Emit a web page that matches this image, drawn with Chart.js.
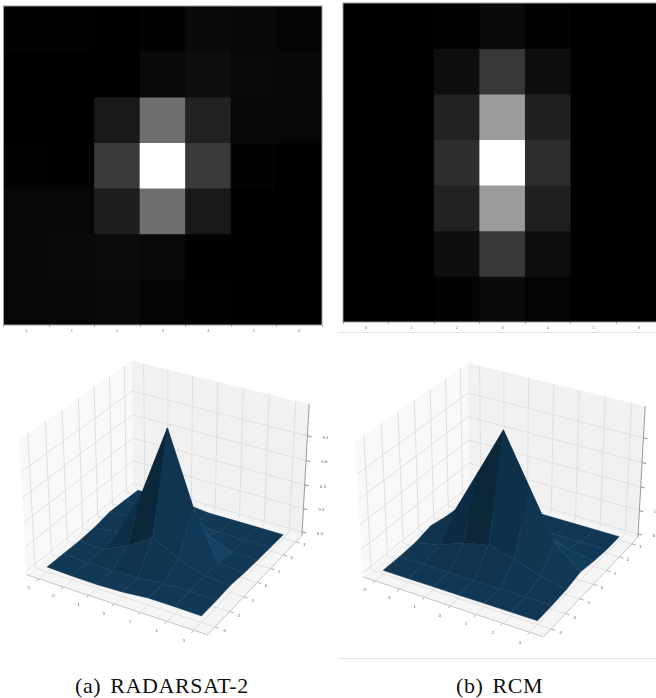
<!DOCTYPE html>
<html>
<head>
<meta charset="utf-8">
<script src="https://cdn.jsdelivr.net/npm/chart.js@4"></script>
<style>
  html, body { margin: 0; background: #fff; overflow: hidden; width: 656px; height: 698px; }
  canvas { position: absolute; filter: blur(0.7px); }
  #heatA { left: 0; top: 0; filter: blur(0.6px); }
  #heatB { left: 328px; top: 0; filter: blur(0.6px); }
  #surfA { left: 0; top: 340px; }
  #surfB { left: 336px; top: 342px; }
  .caption { position: absolute; top: 673px; font: 22px "Liberation Serif", serif; letter-spacing: 0.6px; word-spacing: 3px; color: #111; white-space: pre; }
  .rule { position: absolute; left: 338px; width: 318px; height: 1px; background: #e4e4e4; }
</style>
</head>
<body>
<canvas id="heatA" width="328" height="334"></canvas>
<canvas id="heatB" width="340" height="334"></canvas>
<canvas id="surfA" width="328" height="320"></canvas>
<canvas id="surfB" width="328" height="320"></canvas>
<div class="rule" style="top:332px"></div>
<div class="rule" style="top:658px"></div>
<div class="caption" style="left:75px">(a) RADARSAT-2</div>
<div class="caption" style="left:456px">(b) RCM</div>
<script>
// grey level of each cell (row by row)
const radarsatLevels = [
  [3, 2, 1, 3, 9, 7, 5],
  [1, 0, 0, 9, 14, 8, 7],
  [0, 0, 24, 110, 34, 7, 6],
  [2, 1, 58, 255, 58, 3, 0],
  [7, 7, 30, 110, 24, 1, 0],
  [7, 9, 11, 8, 1, 0, 0],
  [6, 6, 8, 4, 2, 1, 0]
];
const rcmLevels = [
  [0, 0, 2, 10, 3, 0, 0],
  [0, 1, 14, 56, 14, 0, 0],
  [0, 0, 34, 155, 32, 0, 0],
  [0, 0, 46, 255, 46, 0, 0],
  [0, 0, 34, 155, 32, 0, 0],
  [0, 1, 14, 56, 14, 0, 0],
  [0, 1, 3, 10, 4, 0, 0]
];
const cellTicks = ["0", "1", "2", "3", "4", "5", "6"];
const surfaceTicks = [-3, -2, -1, 0, 1, 2, 3];
const heightTicks = [0, 0.2, 0.4, 0.6, 0.8];

const surfaceEdge = 3.5;
const heightMin = -0.03;
const heightMax = 1.05;
const cameraDistance = 7;

function heatChart(id, levels, padLeft) {
  const rows = levels.map(function (row, r) {
    return {
      data: row.map(function () { return [r - 0.5, r + 0.5]; }),
      backgroundColor: row.map(function (v) { return "rgb(" + v + "," + v + "," + v + ")"; }),
      barPercentage: 1,
      categoryPercentage: 1,
      grouped: false
    };
  });
  const tickStyle = { color: "#777", font: { size: 4 }, padding: 1, maxRotation: 0, autoSkip: false };
  return new Chart(document.getElementById(id), {
    type: "bar",
    data: { labels: cellTicks, datasets: rows },
    options: {
      responsive: false,
      animation: false,
      layout: { padding: { top: padLeft ? 3 : 6, right: 6, left: 0, bottom: 0 } },
      plugins: { legend: { display: false }, tooltip: { enabled: false } },
      scales: {
        x: {
          grid: { drawOnChartArea: false, tickLength: 2, color: "#aaa" },
          border: { display: false },
          ticks: tickStyle,
          afterFit: function (scale) { scale.height = padLeft ? 12 : 9; }
        },
        y: {
          type: "linear",
          reverse: true,
          min: -0.5,
          max: 6.5,
          grid: { drawOnChartArea: false, tickLength: 2, color: "#aaa" },
          border: { display: false },
          ticks: Object.assign({ stepSize: 1 }, tickStyle),
          afterBuildTicks: function (scale) {
            scale.ticks = scale.ticks.filter(function (t) { return Number.isInteger(t.value); });
          },
          afterFit: function (scale) { scale.width = padLeft || 3.5; }
        }
      }
    },
    plugins: [{
      id: "frame",
      beforeDatasetsDraw: function (chart) {
        const a = chart.chartArea;
        chart.ctx.fillStyle = "#000";
        chart.ctx.fillRect(a.left, a.top, a.width, a.height);
      },
      afterDatasetsDraw: function (chart) {
        const a = chart.chartArea;
        chart.ctx.strokeStyle = "#999";
        chart.ctx.lineWidth = 1;
        chart.ctx.strokeRect(a.left, a.top, a.width, a.height);
      }
    }]
  });
}

// camera of a default 3d plot: elevation 30, azimuth -60
function project(x, y, z) {
  const px = x / (2 * surfaceEdge);
  const py = y / (2 * surfaceEdge);
  const pz = ((z - heightMin) / (heightMax - heightMin) - 0.5) * 0.75;
  const u = 0.866 * px + 0.5 * py;
  const v = -0.25 * px + 0.433 * py + 0.866 * pz;
  const d = cameraDistance - (0.433 * px - 0.75 * py + 0.5 * pz);
  return { x: u * cameraDistance / d, y: v * cameraDistance / d, d: d };
}

function lineSet(points, color, order, width) {
  return {
    data: points.map(function (p) { return { x: p.x, y: p.y }; }),
    showLine: true,
    pointRadius: 0,
    borderColor: color,
    borderWidth: width,
    fill: false,
    order: order
  };
}

function paneSet(corners, color, order) {
  const points = corners.concat([corners[0]]).map(function (c) { return project(c[0], c[1], c[2]); });
  const set = lineSet(points, color, order, 0);
  set.backgroundColor = color;
  set.fill = "shape";
  return set;
}

function faceShade(a, b, c, d) {
  // normal from the two diagonals of the quad, heights flattened a little
  const ux = c[0] - a[0], uy = c[1] - a[1], uz = (c[2] - a[2]) * 0.6;
  const vx = d[0] - b[0], vy = d[1] - b[1], vz = (d[2] - b[2]) * 0.6;
  let nx = uy * vz - uz * vy, ny = uz * vx - ux * vz, nz = ux * vy - uy * vx;
  if (nz > 0) { nx = -nx; ny = -ny; nz = -nz; }
  const len = Math.sqrt(nx * nx + ny * ny + nz * nz);
  return (-nx - ny + 0.5 * nz) / len;
}

function surfaceFaces(levels) {
  const faces = [];
  for (let i = 0; i < 6; i++) {
    for (let j = 0; j < 6; j++) {
      const corners = [[i, j], [i + 1, j], [i + 1, j + 1], [i, j + 1]].map(function (q) {
        return [surfaceTicks[q[0]], surfaceTicks[q[1]], levels[q[0]][q[1]] / 255];
      });
      const points = corners.map(function (c) { return project(c[0], c[1], c[2]); });
      faces.push({
        corners: corners,
        points: points,
        depth: points.reduce(function (s, p) { return s + p.d; }, 0) / 4,
        shade: faceShade(corners[0], corners[1], corners[2], corners[3])
      });
    }
  }
  return faces;
}

function surfaceChart(id, levels) {
  const e = surfaceEdge, lo = heightMin, hi = heightMax;
  const gridColor = "#e0e0e0";
  const sets = [];
  sets.push(paneSet([[-e, -e, lo], [-e, e, lo], [-e, e, hi], [-e, -e, hi]], "#f9f9f9", 1000));
  sets.push(paneSet([[-e, e, lo], [e, e, lo], [e, e, hi], [-e, e, hi]], "#f1f1f1", 1000));
  sets.push(paneSet([[-e, -e, lo], [e, -e, lo], [e, e, lo], [-e, e, lo]], "#f5f5f5", 1000));

  surfaceTicks.forEach(function (t) {
    sets.push(lineSet([project(t, -e, lo), project(t, e, lo), project(t, e, hi)], gridColor, 900, 1));
    sets.push(lineSet([project(-e, t, hi), project(-e, t, lo), project(e, t, lo)], gridColor, 900, 1));
    sets.push(lineSet([project(t, -e, lo), project(t, -e - 0.15, lo)], "#aaa", 900, 1));
    sets.push(lineSet([project(e, t, lo), project(e + 0.15, t, lo)], "#aaa", 900, 1));
  });
  heightTicks.forEach(function (h) {
    sets.push(lineSet([project(-e, -e, h), project(-e, e, h), project(e, e, h)], gridColor, 900, 1));
    sets.push(lineSet([project(e, e, h), project(e + 0.15, e, h)], "#888", 900, 1));
  });
  sets.push(lineSet([project(-e, -e, lo), project(e, -e, lo), project(e, e, lo)], "#c4c4c4", 800, 1));
  sets.push(lineSet([project(e, e, lo), project(e, e, hi)], "#999", 800, 1));

  const faces = surfaceFaces(levels).sort(function (a, b) { return a.depth - b.depth; });
  const shades = faces.map(function (f) { return f.shade; });
  const low = Math.min.apply(null, shades), high = Math.max.apply(null, shades);
  faces.forEach(function (f, n) {
    const k = 0.5 + 0.5 * (f.shade - low) / (high - low || 1);
    const r = Math.round(23 * k), g = Math.round(76 * k), b = Math.round(116 * k);
    const set = lineSet(f.points.concat([f.points[0]]), "rgb(" + (r + 2) + "," + (g + 3) + "," + (b + 4) + ")", n, 0.5);
    set.backgroundColor = "rgb(" + r + "," + g + "," + b + ")";
    set.fill = "shape";
    sets.push(set);
  });

  return new Chart(document.getElementById(id), {
    type: "scatter",
    data: { datasets: sets },
    options: {
      responsive: false,
      animation: false,
      layout: { padding: 0 },
      plugins: { legend: { display: false }, tooltip: { enabled: false } },
      scales: {
        x: { display: false, min: -0.81, max: 0.777 },
        y: { display: false, min: -0.83, max: 0.731 }
      }
    },
    plugins: [{
      id: "axisText",
      afterDatasetsDraw: function (chart) {
        const ctx = chart.ctx;
        const write = function (p, text) {
          ctx.fillText(text, chart.scales.x.getPixelForValue(p.x), chart.scales.y.getPixelForValue(p.y));
        };
        ctx.save();
        ctx.font = "4px 'DejaVu Sans'";
        ctx.fillStyle = "#666";
        ctx.textAlign = "center";
        ctx.textBaseline = "middle";
        surfaceTicks.forEach(function (t) {
          write(project(t, -e - 0.65, lo), String(t));
          write(project(e + 0.35, t - 0.05, lo), String(t));
        });
        heightTicks.forEach(function (h) {
          write(project(e + 0.6, e + 0.2, h), h.toFixed(1));
        });
        ctx.restore();
      }
    }]
  });
}

heatChart("heatA", radarsatLevels, 0);
heatChart("heatB", rcmLevels, 15);
surfaceChart("surfA", radarsatLevels);
surfaceChart("surfB", rcmLevels);
</script>
</body>
</html>
